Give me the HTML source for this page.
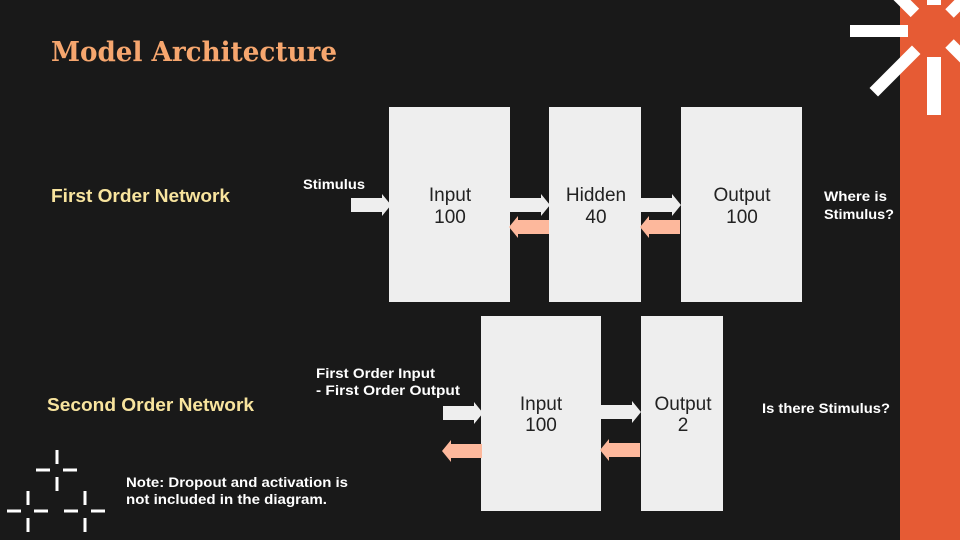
<!DOCTYPE html>
<html><head><meta charset="utf-8"><style>
html,body{margin:0;padding:0;background:#191919;}
svg{display:block;}
text{font-family:"Liberation Sans","DejaVu Sans",sans-serif;}
</style></head><body>
<svg width="960" height="540" viewBox="0 0 960 540" xmlns="http://www.w3.org/2000/svg">
<defs>
<path id="ar" d="M0,-7 H31 V-11 L40,0 L31,11 V7 H0 Z"/>
</defs>
<rect width="960" height="540" fill="#191919"/>
<rect x="900" y="0" width="60" height="540" fill="#e65b34"/>
<g fill="#fff">
<rect x="850" y="25" width="58" height="12"/>
<rect x="927" y="57" width="14" height="58"/>
<rect x="927" y="-5" width="14" height="10"/>
<rect x="-6" y="-30" width="12" height="60" transform="translate(895,71) rotate(45)"/>
<rect x="-6" y="-14" width="12" height="28" transform="translate(905,3) rotate(-45)"/>
<rect x="-6" y="-12" width="12" height="24" transform="translate(958,5) rotate(45)"/>
<rect x="-6" y="-12" width="12" height="24" transform="translate(958,52) rotate(-45)"/>
</g>
<text x="51" y="61" font-weight="bold" font-size="27" fill="#f6a66e" textLength="286" lengthAdjust="spacingAndGlyphs" style="font-family:'DejaVu Serif','Liberation Serif',serif">Model Architecture</text>
<g fill="#eeeeee">
<rect x="389" y="107" width="121" height="195"/>
<rect x="549" y="107" width="92" height="195"/>
<rect x="681" y="107" width="121" height="195"/>
<rect x="481" y="316" width="120" height="195"/>
<rect x="641" y="316" width="82" height="195"/>
</g>
<g font-size="19" fill="#222" text-anchor="middle">
<text x="450" y="201">Input</text><text x="450" y="223">100</text>
<text x="596" y="201">Hidden</text><text x="596" y="223">40</text>
<text x="742" y="201">Output</text><text x="742" y="223">100</text>
<text x="541" y="410">Input</text><text x="541" y="431">100</text>
<text x="683" y="410">Output</text><text x="683" y="431">2</text>
</g>
<g fill="#eeeeee">
<use href="#ar" x="351" y="205"/>
<use href="#ar" x="510" y="205"/>
<use href="#ar" x="641" y="205"/>
<use href="#ar" x="443" y="413"/>
<use href="#ar" x="601" y="412"/>
</g>
<g fill="#fdb89c">
<use href="#ar" transform="translate(549,227) scale(-1,1)"/>
<use href="#ar" transform="translate(680,227) scale(-1,1)"/>
<use href="#ar" transform="translate(482,451) scale(-1,1)"/>
<use href="#ar" transform="translate(640,450) scale(-1,1)"/>
</g>
<g font-weight="bold" fill="#fff" font-size="13.5">
<text x="303" y="189" textLength="62" lengthAdjust="spacingAndGlyphs">Stimulus</text>
<text x="824" y="201" textLength="63" lengthAdjust="spacingAndGlyphs">Where is</text>
<text x="824" y="219" textLength="70" lengthAdjust="spacingAndGlyphs">Stimulus?</text>
<text x="316" y="378" textLength="119" lengthAdjust="spacingAndGlyphs">First Order Input</text>
<text x="316" y="395" textLength="144" lengthAdjust="spacingAndGlyphs">- First Order Output</text>
<text x="762" y="413" textLength="128" lengthAdjust="spacingAndGlyphs">Is there Stimulus?</text>
<text x="126" y="487" textLength="222" lengthAdjust="spacingAndGlyphs">Note: Dropout and activation is</text>
<text x="126" y="504" textLength="201" lengthAdjust="spacingAndGlyphs">not included in the diagram.</text>
</g>
<g font-weight="bold" fill="#f8e49e" font-size="18">
<text x="51" y="202" textLength="179" lengthAdjust="spacingAndGlyphs">First Order Network</text>
<text x="47" y="411" textLength="207" lengthAdjust="spacingAndGlyphs">Second Order Network</text>
</g>
<g fill="#fff">
<g transform="translate(57,470)"><rect x="-1.5" y="-20" width="3" height="14"/><rect x="-1.5" y="7" width="3" height="14"/><rect x="-21" y="-1.5" width="14" height="3"/><rect x="6" y="-1.5" width="14" height="3"/></g>
<g transform="translate(28,511)"><rect x="-1.5" y="-20" width="3" height="14"/><rect x="-1.5" y="7" width="3" height="14"/><rect x="-21" y="-1.5" width="14" height="3"/><rect x="6" y="-1.5" width="14" height="3"/></g>
<g transform="translate(85,511)"><rect x="-1.5" y="-20" width="3" height="14"/><rect x="-1.5" y="7" width="3" height="14"/><rect x="-21" y="-1.5" width="14" height="3"/><rect x="6" y="-1.5" width="14" height="3"/></g>
</g>
</svg>
</body></html>
